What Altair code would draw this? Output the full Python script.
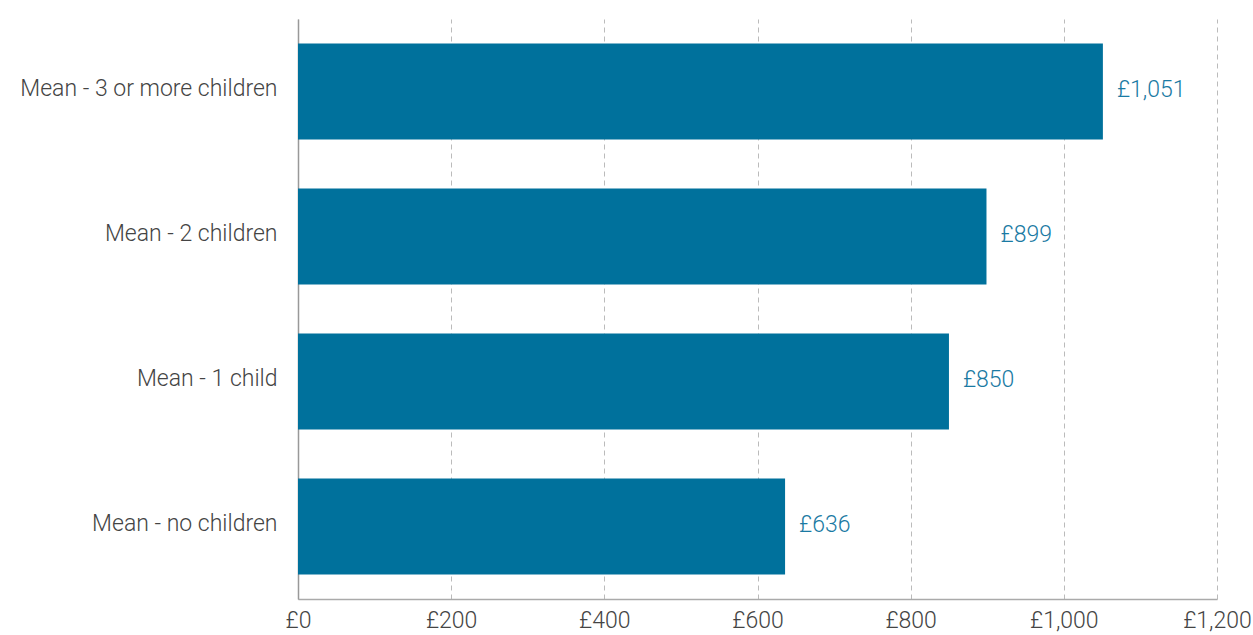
import altair as alt
import pandas as pd

categories = ["Mean - 3 or more children", "Mean - 2 children", "Mean - 1 child", "Mean - no children"]
values = [1051, 899, 850, 636]
labels = ["£1,051", "£899", "£850", "£636"]

df = pd.DataFrame({"cat": categories, "val": values, "lab": labels})

FONT = "Roboto"
FS = 23
y = alt.Y("cat:N", sort=categories, title=None,
          scale=alt.Scale(paddingInner=0.338, paddingOuter=0.169),
          axis=alt.Axis(labelFont=FONT, labelFontSize=FS, labelFontWeight=300, labelColor="#444444",
                        ticks=False, domain=True, domainColor="#999999", domainWidth=1.5,
                        labelPadding=21, grid=False, labelLimit=400, labelOffset=-3))
x = alt.X("val:Q", title=None,
          scale=alt.Scale(domain=[0, 1200], nice=False),
          axis=alt.Axis(values=[0, 200, 400, 600, 800, 1000, 1200],
                        labelExpr="'£' + format(datum.value, ',')",
                        labelFont=FONT, labelFontSize=FS, labelFontWeight=300, labelColor="#444444",
                        labelFlush=False, labelOverlap=False,
                        ticks=False, domainColor="#aaaaaa", domainWidth=1.5, labelPadding=10,
                        grid=True, gridDash=[5, 4], gridColor="#bbbbbb", gridWidth=1))

bars = alt.Chart(df).mark_bar(color="#00719c").encode(x=x, y=y)
text = alt.Chart(df).mark_text(align="left", dx=14, dy=-2, font=FONT, fontSize=FS, fontWeight=300,
                               color="#1a7aa3").encode(
    x=alt.X("val:Q"), y=alt.Y("cat:N", sort=categories), text="lab:N")

chart = (bars + text).properties(
    width=919, height=580,
    autosize=alt.AutoSizeParams(type="none"),
    padding={"left": 298, "top": 19, "right": 36, "bottom": 36},
).configure_view(stroke=None)

chart.save("out.html", embed_options={"renderer": "svg", "actions": False})
